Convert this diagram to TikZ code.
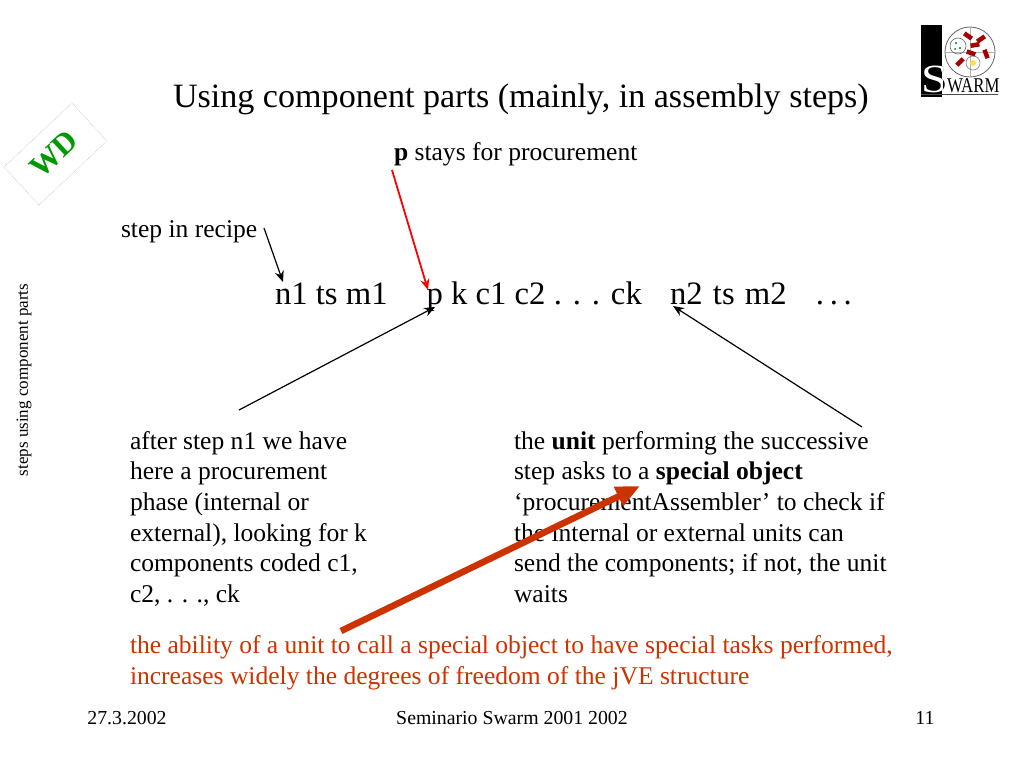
\documentclass[tikz,border=0pt]{standalone}
\usepackage{fontspec}
\setmainfont{Liberation Serif}
\usetikzlibrary{arrows.meta}
\definecolor{redtxt}{RGB}{204,51,0}
\definecolor{wdgreen}{RGB}{0,153,0}
\definecolor{bigarrow}{RGB}{204,51,0}
\tikzset{
  txt/.style={inner sep=0pt,outer sep=0pt,anchor=base west},
  body/.style={txt,font=\fontsize{25.55}{30.7}\selectfont,align=left},
  foot/.style={inner sep=0pt,outer sep=0pt,anchor=base,font=\fontsize{19.8}{22}\selectfont},
  thin arrow/.style={black,line width=1.2pt,-{Stealth[length=11pt,width=9pt]}},
  red arrow/.style={red,line width=1.8pt,-{Stealth[length=11pt,width=9pt]}},
  fat arrow/.style={bigarrow,line width=6.5pt,-{Stealth[length=24pt,width=20pt,inset=0pt]}},
  blob/.style={fill=red!65!black,draw=none,inner sep=0pt,shape=rectangle}
}
\begin{document}
\begin{tikzpicture}[x=1pt,y=-1pt]
\useasboundingbox (0,0) rectangle (1024,768);
\fill[white] (0,0) rectangle (1024,768);

% title
\node[txt,font=\fontsize{34.1}{40}\selectfont] (title) at (173,107) {Using component parts (mainly, in assembly steps)};

% logo
\fill[black] (921,25) rectangle (942,97);
\draw[black!60,line width=0.8pt] (970,52) circle (25);
\draw[black!30,line width=0.5pt] (945,52) -- (995,52) (970,27) -- (970,77);
\foreach \x/\y/\a in {968/36/-35,981/39/35,975/45/10,971/53/-20,986/54/-70,960/62/45}{
  \node[blob,rotate=\a,minimum width=9pt,minimum height=4.5pt] at (\x,\y) {};
}
\draw[black!60,line width=0.6pt] (958,46) circle (8);
\fill[green!50!black] (956,43) circle (1.2) (960,48) circle (1.2) (955,49) circle (1);
\draw[black!50,line width=0.6pt] (973,63) circle (7);
\fill[yellow!70!orange!70] (973,63) circle (3);
\node[inner sep=0pt,anchor=base west,black,font=\fontsize{40}{40}\selectfont] (logoS) at (921,92) {\scalebox{1.2}[1]{S}};
\begin{scope}
\clip (921,25) rectangle (942,97);
\node[inner sep=0pt,anchor=base west,white,font=\fontsize{40}{40}\selectfont] (logoSw) at (921,92) {\scalebox{1.2}[1]{S}};
\end{scope}
\node[inner sep=0pt,anchor=base west,black,font=\fontsize{21}{21}\selectfont] (logoW) at (947,92) {\scalebox{0.8}[1]{WARM}};
\draw[black!70,line width=0.8pt] (921,94.5) -- (998,94.5);

% WD stamp
\draw[black!25,densely dotted,line width=0.6pt] (72,103) -- (107,141) -- (39,205) -- (4,167) -- cycle;
\node[inner sep=0pt,rotate=43,text=wdgreen,font=\fontsize{31}{31}\selectfont\bfseries] (wd) at (54,154) {WD};

% side label
\node[inner sep=0pt,rotate=90,font=\fontsize{17}{18}\selectfont] (side) at (24,380) {steps using component parts};

% labels
\node[body] (pnote) at (394,160) {\textbf{p} stays for procurement};
\node[body] (step) at (121,237) {step in recipe};
\node[txt,font=\fontsize{32.7}{38}\selectfont] (seq) at (275,304) {n1 ts m1\hspace{39pt}p k c1 c2 . . . ck\hspace{20pt} n2\hspace{2pt} ts\hspace{2pt} m2\hspace{21pt} .\hspace{5.7pt}.\hspace{5.7pt}.};

\node[body] (left) at (130,602.5) {after step n1 we have\\here a procurement\\phase (internal or\\external), looking for k\\components coded c1,\\c2, . . ., ck};
\node[body] (right) at (514,602.5) {the \textbf{unit} performing the successive\\step asks to a \textbf{special object}\\‘procurementAssembler’ to check if\\the internal or external units can\\send the components; if not, the unit\\waits};
\node[body,text=redtxt] (ability) at (130,684) {the ability of a unit to call a special object to have special tasks performed,\\increases widely the degrees of freedom of the jVE structure};

% footers
\node[foot] (fdate) at (127,724) {27.3.2002};
\node[foot] (fsem) at (512,724) {Seminario Swarm 2001 2002};
\node[foot] (fnum) at (925,724) {11};

% connectors
\coordinate (a1s) at (264,228); \coordinate (a1e) at (283,282);
\coordinate (a2s) at (392,170); \coordinate (a2e) at (428,290);
\coordinate (a3s) at (239,410); \coordinate (a3e) at (435,307);
\coordinate (a4s) at (862,427); \coordinate (a4e) at (673,306);
\coordinate (a5s) at (341,631); \coordinate (a5e) at (640,486);
\draw[thin arrow] (a1s) -- (a1e);
\draw[red arrow] (a2s) -- (a2e);
\draw[thin arrow] (a3s) -- (a3e);
\draw[thin arrow] (a4s) -- (a4e);
\draw[fat arrow] (a5s) -- (a5e);
\end{tikzpicture}
\end{document}
